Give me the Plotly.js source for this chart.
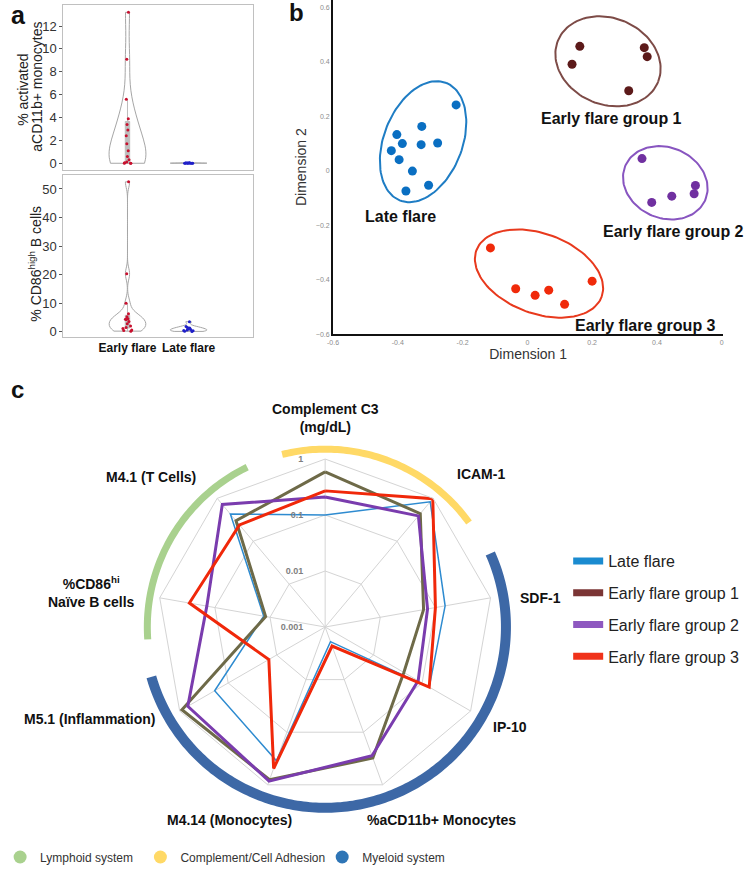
<!DOCTYPE html>
<html>
<head>
<meta charset="utf-8">
<script src="https://cdn.plot.ly/plotly-3.0.1.min.js"></script>
<style>
  html, body { margin: 0; padding: 0; background: #fff; }
  #chart { width: 747px; height: 872px; }
</style>
</head>
<body>
<div id="chart"></div>
<script>
// ---- panel a : per patient values ----
var earlyMonocytes = [13.2, 9.1, 5.6, 3.9, 3.4, 2.9, 2.4, 1.7, 1.1, 0.6, 0.3, 0.1, 0.05, 0, 0, 0];
var lateMonocytes = [0.05, 0.02, 0.01, 0, 0, 0, 0.03, 0.04, 0, 0.01, 0.02];
var earlyCD86 = [52.5, 20.3, 10.0, 6.3, 5.2, 4.5, 4.4, 4.3, 3.6, 2.8, 2.0, 1.5, 1.1, 0.6, 0.4, 0.2];
var lateCD86 = [3.5, 1.8, 1.5, 1.3, 1.0, 0.8, 0.6, 0.4, 0.3, 0.2, 0.1];

// ---- panel b : MDS coordinates ----
var lateDim1 = [-0.220, -0.326, -0.403, -0.386, -0.328, -0.277, -0.420, -0.396, -0.355, -0.375, -0.305];
var lateDim2 = [0.242, 0.163, 0.133, 0.100, 0.096, 0.102, 0.074, 0.041, -0.001, -0.074, -0.053];
var group1Dim1 = [0.162, 0.138, 0.361, 0.370, 0.313];
var group1Dim2 = [0.457, 0.391, 0.452, 0.419, 0.294];
var group2Dim1 = [0.354, 0.384, 0.446, 0.515, 0.519];
var group2Dim2 = [0.045, -0.116, -0.093, -0.084, -0.054];
var group3Dim1 = [-0.114, -0.036, 0.024, 0.066, 0.115, 0.200];
var group3Dim2 = [-0.283, -0.433, -0.457, -0.438, -0.490, -0.405];

// cluster ellipses (late, group 1, group 2, group 3), radii in dimension-1 units
var ellipseCx = [-0.322, 0.249, 0.426, 0.036];
var ellipseCy = [0.107, 0.402, -0.044, -0.377];
var ellipseRa = [0.193, 0.167, 0.134, 0.206];
var ellipseRb = [0.121, 0.132, 0.108, 0.122];
var ellipseTilt = [68, -22, -22, -20];

// ---- panel c : radar ----
var radarAxes = ['Complement C3 (mg/dL)', 'ICAM-1', 'SDF-1', 'IP-10', '%aCD11b+ Monocytes',
                 'M4.14 (Monocytes)', 'M5.1 (Inflammation)', '%CD86hi Naïve B cells', 'M4.1 (T Cells)'];
var lateRadar   = [0.10, 0.83, 0.15, 0.14, 0.0019, 0.35, 0.19, 0.013, 0.43];
var group1Radar = [0.59, 0.44, 0.061, 0.042, 0.31, 0.80, 0.90, 0.012, 0.30];
var group2Radar = [0.21, 0.39, 0.072, 0.083, 0.28, 0.85, 0.68, 0.14, 0.72];
var group3Radar = [0.27, 0.98, 0.10, 0.14, 0.0023, 0.49, 0.0145, 0.29, 0.24];
var radarTicks = [0.001, 0.01, 0.1, 1];

var axisSystem = ['Complement', 'Complement', 'Myeloid', 'Myeloid', 'Myeloid',
                  'Myeloid', 'Myeloid', 'Lymphoid', 'Lymphoid'];
var systemKeys = ['Lymphoid', 'Complement', 'Myeloid'];
var systemNames = ['Lymphoid system', 'Complement/Cell Adhesion', 'Myeloid system'];

var W = 747, H = 872;
function px(x) { return x / W; }
function py(y) { return 1 - y / H; }

var FONT = 'Liberation Sans, Arial, sans-serif';

// ---------- violins ----------
function violin(vals, cat, color, xa, ya) {
    return {
        type: 'violin',
        x: vals.map(function () { return cat; }),
        y: vals,
        xaxis: xa, yaxis: ya,
        showlegend: false,
        spanmode: 'hard',
        width: 0.6,
        line: {color: '#a6a6a6', width: 1},
        fillcolor: 'rgba(255,255,255,0)',
        points: 'all', pointpos: 0, jitter: 0.35,
        marker: {color: color, size: 3},
        box: {visible: true, width: 0.12, fillcolor: '#bdbdbd', line: {color: '#bdbdbd', width: 1}},
        meanline: {visible: false}
    };
}

var data = [
    violin(earlyMonocytes, 'Early flare', '#c8102e', 'x', 'y'),
    violin(lateMonocytes, 'Late flare', '#1f1fc8', 'x', 'y'),
    violin(earlyCD86, 'Early flare', '#c8102e', 'x2', 'y2'),
    violin(lateCD86, 'Late flare', '#1f1fc8', 'x2', 'y2')
];

// ---------- scatter + ellipses ----------
var x3Range = [-0.6, 0.605], y3Range = [-0.6, 0.627];
var x3Dom = [px(328), px(723)], y3Dom = [py(334.3), 1];
var xPix = (x3Dom[1] - x3Dom[0]) * W / (x3Range[1] - x3Range[0]);
var yPix = (y3Dom[1] - y3Dom[0]) * H / (y3Range[1] - y3Range[0]);
var aspect = xPix / yPix;

var clusterColors = ['#1f7dc4', '#7d4b47', '#8855c0', '#e8391d'];
for (var k = 0; k < ellipseCx.length; k++) {
    var ex = [], ey = [];
    var th = ellipseTilt[k] * Math.PI / 180;
    for (var s = 0; s <= 120; s++) {
        var f = s / 120 * 2 * Math.PI;
        var u = ellipseRa[k] * Math.cos(f) * Math.cos(th) - ellipseRb[k] * Math.sin(f) * Math.sin(th);
        var v = ellipseRa[k] * Math.cos(f) * Math.sin(th) + ellipseRb[k] * Math.sin(f) * Math.cos(th);
        ex.push(ellipseCx[k] + u);
        ey.push(ellipseCy[k] + v * aspect);
    }
    data.push({
        type: 'scatter', mode: 'lines', x: ex, y: ey, xaxis: 'x3', yaxis: 'y3',
        line: {color: clusterColors[k], width: 2}, showlegend: false
    });
}

function dots(xs, ys, color) {
    return {
        type: 'scatter', mode: 'markers', x: xs, y: ys, xaxis: 'x3', yaxis: 'y3',
        marker: {color: color, size: 9}, showlegend: false
    };
}
data.push(dots(lateDim1, lateDim2, '#0a6fc2'));
data.push(dots(group1Dim1, group1Dim2, '#5c1a1a'));
data.push(dots(group2Dim1, group2Dim2, '#7030a0'));
data.push(dots(group3Dim1, group3Dim2, '#f02a0a'));

// ---------- radar ----------
function closed(a) { return a.concat([a[0]]); }
var thetaClosed = closed(radarAxes);

data.push({type: 'scatterpolar', subplot: 'polar', r: closed(lateRadar), theta: thetaClosed,
    mode: 'lines+markers', line: {color: '#2e8bd0', width: 1.5}, marker: {size: 4, color: '#2e8bd0'},
    showlegend: false});
data.push({type: 'scatterpolar', subplot: 'polar', r: closed(group1Radar), theta: thetaClosed,
    mode: 'lines', line: {color: '#6e6a48', width: 3}, showlegend: false});
data.push({type: 'scatterpolar', subplot: 'polar', r: closed(group2Radar), theta: thetaClosed,
    mode: 'lines', line: {color: '#7a3cae', width: 3}, showlegend: false});
data.push({type: 'scatterpolar', subplot: 'polar', r: closed(group3Radar), theta: thetaClosed,
    mode: 'lines', line: {color: '#f0280a', width: 3}, showlegend: false});

// system arcs on a second, larger polar
var arcColors = {Lymphoid: '#a9d18e', Complement: '#ffd966', Myeloid: '#3d68a6'};
var arcWidth = {Lymphoid: 7, Complement: 7, Myeloid: 10};
var arcR = {Lymphoid: 0.9, Complement: 0.9, Myeloid: 0.915};
var step = 360 / radarAxes.length;
systemKeys.forEach(function (key) {
    var angles = [];
    axisSystem.forEach(function (sys, i) { if (sys === key) angles.push(90 - step * i); });
    var a0 = Math.min.apply(null, angles) - 14, a1 = Math.max.apply(null, angles) + 14;
    var th = [], rr = [];
    for (var a = a0; a <= a1 + 0.01; a += 1) { th.push(a); rr.push(arcR[key]); }
    data.push({type: 'scatterpolar', subplot: 'polar2', r: rr, theta: th, mode: 'lines',
        line: {color: arcColors[key], width: arcWidth[key]}, showlegend: false});
});

// legends
var legendItems = [['Late flare', '#1a8bd0'], ['Early flare group 1', '#7b3535'],
                   ['Early flare group 2', '#8e58c0'], ['Early flare group 3', '#f0321a']];
legendItems.forEach(function (it, i) {
    data.push({type: 'scatter', mode: 'lines', x: [null], y: [null], xaxis: 'x3', yaxis: 'y3',
        name: it[0], legendgroup: 'g' + i, line: {color: it[1], width: 7}, legend: 'legend'});
});
var systemLegendColors = ['#a9d18e', '#ffd966', '#2e75b6'];
systemNames.forEach(function (nm, i) {
    data.push({type: 'scatter', mode: 'markers', x: [null], y: [null], xaxis: 'x3', yaxis: 'y3',
        name: nm, marker: {color: systemLegendColors[i], size: 13}, legend: 'legend' + (i + 2)});
});

// ---------- layout ----------
var frame = {showline: true, mirror: true, linecolor: '#c0c0c0', linewidth: 1,
             showgrid: false, zeroline: false};
function merge(a, b) { var o = {}; for (var k in a) o[k] = a[k]; for (var k2 in b) o[k2] = b[k2]; return o; }

var catAxis = {type: 'category', categoryorder: 'array', categoryarray: ['Early flare', 'Late flare'],
               range: [-1.05, 2.05], domain: [px(55), px(246.7)]};

var annotations = [
    {text: '<b>a</b>', x: px(0), y: py(15), font: {size: 25}},
    {text: '<b>b</b>', x: px(281), y: py(13), font: {size: 24}},
    {text: '<b>c</b>', x: px(0), y: py(389), font: {size: 24}},
    {text: '% activated', x: px(14), y: py(90), textangle: -90,
        font: {size: 14, color: '#222'}, xanchor: 'center'},
    {text: 'aCD11b+ monocytes', x: px(28), y: py(87), textangle: -90,
        font: {size: 14, color: '#222'}, xanchor: 'center'},
    {text: '% CD86<sup>high</sup> B cells', x: px(26), y: py(264), textangle: -90,
        font: {size: 14, color: '#222'}, xanchor: 'center'},
    {text: '<b>Late flare</b>', x: px(396), y: py(216), font: {size: 16}, xanchor: 'center'},
    {text: '<b>Early flare group 1</b>', x: px(610), y: py(118), font: {size: 16}, xanchor: 'center'},
    {text: '<b>Early flare group 2</b>', x: px(673), y: py(231), font: {size: 16}, xanchor: 'center'},
    {text: '<b>Early flare group 3</b>', x: px(644), y: py(325), font: {size: 16}, xanchor: 'center'},
    {text: '<b>Complement C3<br>(mg/dL)</b>', x: px(320), y: py(418), font: {size: 14}, xanchor: 'center'},
    {text: '<b>ICAM-1</b>', x: px(477.5), y: py(474), font: {size: 14}, xanchor: 'center'},
    {text: '<b>SDF-1</b>', x: px(538), y: py(598), font: {size: 14}, xanchor: 'center'},
    {text: '<b>IP-10</b>', x: px(507.5), y: py(727), font: {size: 14}, xanchor: 'center'},
    {text: '<b>%aCD11b+ Monocytes</b>', x: px(437.5), y: py(820), font: {size: 14}, xanchor: 'center'},
    {text: '<b>M4.14 (Monocytes)</b>', x: px(223), y: py(820), font: {size: 14}, xanchor: 'center'},
    {text: '<b>M5.1 (Inflammation)</b>', x: px(81), y: py(719), font: {size: 14}, xanchor: 'center'},
    {text: '<b>%CD86<sup>hi</sup><br>Naïve B cells</b>', x: px(84), y: py(592), font: {size: 14}, xanchor: 'center'},
    {text: '<b>M4.1 (T Cells)</b>', x: px(144), y: py(477), font: {size: 14}, xanchor: 'center'}
].map(function (a) {
    return merge({xref: 'paper', yref: 'paper', showarrow: false, xanchor: 'left', yanchor: 'middle'},
        merge(a, {font: merge({family: FONT, color: '#111'}, a.font)}));
});

var smallLegendFont = {size: 12, color: '#333', family: 'Liberation Sans Narrow, ' + FONT};
var pad = '\u00a0\u00a0\u00a0\u00a0\u00a0\u00a0\u00a0\u00a0';

var layout = {
    width: W, height: H,
    margin: {l: 0, r: 0, t: 0, b: 0},
    paper_bgcolor: '#fff', plot_bgcolor: 'rgba(0,0,0,0)',
    font: {family: FONT, color: '#333'},
    hovermode: false,
    xaxis: merge(frame, merge(catAxis, {anchor: 'y', showticklabels: false, ticks: ''})),
    xaxis2: merge(frame, merge(catAxis, {anchor: 'y2', ticks: '',
        tickfont: {size: 12, color: '#111', weight: 'bold'}})),
    yaxis: merge(frame, {domain: [py(170), py(5)], anchor: 'x', range: [-0.59, 13.84],
        tickvals: [0, 2, 4, 6, 8, 10, 12], ticks: 'outside', ticklen: 3, tickcolor: '#555',
        tickfont: {size: 13, color: '#333'}}),
    yaxis2: merge(frame, {domain: [py(336.7), py(175)], anchor: 'x2', range: [-1.75, 54.9],
        tickvals: [0, 10, 20, 30, 40, 50], ticks: 'outside', ticklen: 3, tickcolor: '#555',
        tickfont: {size: 13, color: '#333'}}),
    xaxis3: {domain: x3Dom, anchor: 'y3', range: x3Range, showline: true, linecolor: '#111', linewidth: 2,
        showgrid: false, zeroline: false, ticks: '',
        tickvals: [-0.6, -0.4, -0.2, 0, 0.2, 0.4, 0.6],
        ticktext: ['-0.6', '-0.4', '-0.2', '0', '0.2', '0.4', '0'],
        tickfont: {size: 7, color: '#8c8c8c'},
        title: {text: 'Dimension 1', font: {size: 14, color: '#333'}, standoff: 2}},
    yaxis3: {domain: y3Dom, anchor: 'x3', range: y3Range, showline: true, linecolor: '#111', linewidth: 2,
        showgrid: false, zeroline: false, ticks: '',
        tickvals: [-0.6, -0.4, -0.2, 0, 0.2, 0.4, 0.6],
        tickfont: {size: 7, color: '#8c8c8c'},
        title: {text: 'Dimension 2', font: {size: 14, color: '#333'}, standoff: 6}},
    polar: {
        domain: {x: [px(150), px(490)], y: [py(797), py(457)]},
        bgcolor: 'rgba(0,0,0,0)',
        gridshape: 'linear',
        angularaxis: {type: 'category', categoryarray: radarAxes, direction: 'clockwise', rotation: 90,
            showticklabels: false, ticks: '', showline: true, linecolor: '#d4d4d4', linewidth: 1,
            gridcolor: '#d4d4d4', gridwidth: 1},
        radialaxis: {type: 'log', range: [-3, 0], tickvals: radarTicks,
            ticktext: radarTicks.map(function (t) { return String(t) + pad; }),
            angle: 90, side: 'counterclockwise', tickangle: 90,
            showline: false, ticks: '', gridcolor: '#d4d4d4', gridwidth: 1,
            tickfont: {size: 9, color: '#7f7f7f', weight: 'bold'}}
    },
    polar2: {
        domain: {x: [px(120), px(520)], y: [py(827), py(427)]},
        bgcolor: 'rgba(0,0,0,0)',
        angularaxis: {type: 'linear', direction: 'counterclockwise', rotation: 0, showgrid: false,
            showline: false, showticklabels: false, ticks: ''},
        radialaxis: {visible: false, range: [0, 1]}
    },
    legend: {x: px(566), y: py(544), xanchor: 'left', yanchor: 'top', tracegroupgap: 8,
        font: {size: 16, color: '#222', family: FONT}, bgcolor: 'rgba(0,0,0,0)'},
    legend2: {x: px(-9), y: py(857), xanchor: 'left', yanchor: 'middle',
        font: smallLegendFont, bgcolor: 'rgba(0,0,0,0)'},
    legend3: {x: px(133), y: py(857), xanchor: 'left', yanchor: 'middle',
        font: smallLegendFont, bgcolor: 'rgba(0,0,0,0)'},
    legend4: {x: px(317), y: py(857), xanchor: 'left', yanchor: 'middle',
        font: smallLegendFont, bgcolor: 'rgba(0,0,0,0)'},
    annotations: annotations
};

Plotly.newPlot('chart', data, layout, {staticPlot: true, displayModeBar: false});
</script>
</body>
</html>
